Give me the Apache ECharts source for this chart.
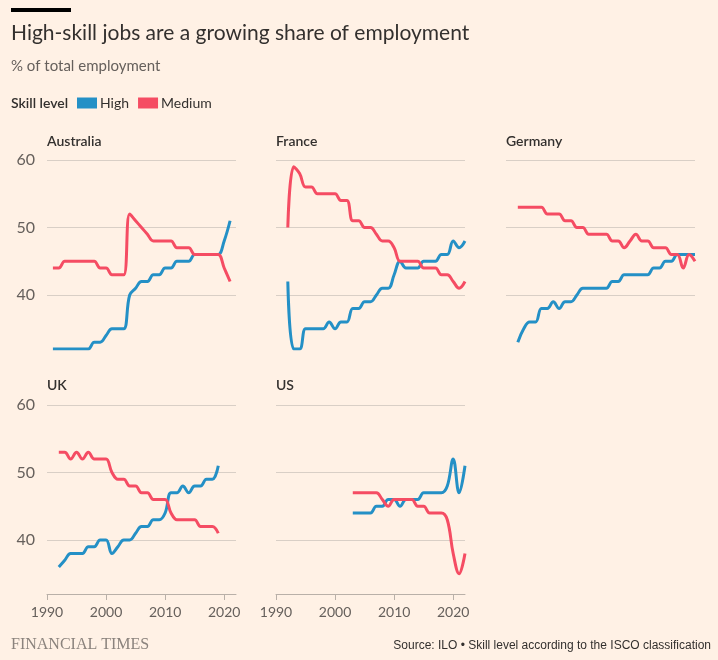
<!DOCTYPE html>
<html><head><meta charset="utf-8">
<script src="https://cdn.jsdelivr.net/npm/echarts@6/dist/echarts.min.js"></script>
<style>html,body{margin:0;padding:0;background:#fff1e5}#c{width:718px;height:660px}</style>
</head><body><div id="c"></div>
<script>
// ---- data ----
const ausYears = [1991,1992,1993,1994,1995,1996,1997,1998,1999,2000,2001,2002,2003,2004,2005,2006,2007,2008,2009,2010,2011,2012,2013,2014,2015,2016,2017,2018,2019,2020,2021];
const ausHigh  = [32,32,32,32,32,32,32,33,33,34,35,35,35,40,41,42,42,43,43,44,44,45,45,45,46,46,46,46,46,48,51];
const ausMed   = [44,44,45,45,45,45,45,45,44,44,43,43,43,52,51,50,49,48,48,48,48,47,47,47,46,46,46,46,46,44,42];

const frYears = [1992,1993,1994,1995,1996,1997,1998,1999,2000,2001,2002,2003,2004,2005,2006,2007,2008,2009,2010,2011,2012,2013,2014,2015,2016,2017,2018,2019,2020,2021,2022];
const frHigh  = [42,32,32,35,35,35,35,36,35,36,36,38,38,39,39,40,41,41,43,45,44,44,44,45,45,45,46,46,48,47,48];
const frMed   = [50,59,58,56,56,55,55,55,55,54,54,51,51,50,50,49,48,48,47,45,45,45,45,44,44,44,43,43,42,41,42];

const deYears = [1992,1993,1994,1995,1996,1997,1998,1999,2000,2001,2002,2003,2004,2005,2006,2007,2008,2009,2010,2011,2012,2013,2014,2015,2016,2017,2018,2019,2020,2021,2022];
const deHigh  = [33,35,36,36,38,38,39,38,39,39,40,41,41,41,41,41,42,42,43,43,43,43,43,44,44,45,45,46,46,46,46];
const deMed   = [53,53,53,53,53,52,52,52,51,51,50,50,49,49,49,49,48,48,47,48,49,48,48,47,47,47,46,46,44,46,45];

const ukYears = [1992,1993,1994,1995,1996,1997,1998,1999,2000,2001,2002,2003,2004,2005,2006,2007,2008,2009,2010,2011,2012,2013,2014,2015,2016,2017,2018,2019];
const ukHigh  = [36,37,38,38,38,39,39,40,40,38,39,40,40,41,42,42,43,43,44,47,47,48,47,48,48,49,49,51];
const ukMed   = [53,53,52,53,52,53,52,52,52,50,49,49,48,48,47,47,46,46,46,44,43,43,43,43,42,42,42,41];

const usYears = [2003,2004,2005,2006,2007,2008,2009,2010,2011,2012,2013,2014,2015,2016,2017,2018,2019,2020,2021,2022];
const usHigh  = [44,44,44,44,45,45,46,46,45,46,46,46,47,47,47,47,48,52,47,51];
const usMed   = [47,47,47,47,47,46,45,46,46,46,46,45,45,44,44,44,43,38,35,38];

const countries = ['Australia','France','Germany','UK','US'];
const yTicks = [40,50,60];
const xTicks = [1990,2000,2010,2020];
const seriesNames = ['High','Medium'];

// ---- layout / style ----
const BG = '#fff1e5';
const BLUE = '#2490c6';
const RED = '#f54c63';
const FONT = 'Lato, "Noto Sans", sans-serif';
const panelData = [
  [ausYears, ausHigh, ausMed],
  [frYears, frHigh, frMed],
  [deYears, deHigh, deMed],
  [ukYears, ukHigh, ukMed],
  [usYears, usHigh, usMed]
];
const lefts = [47, 276, 506];
const tops = [160, 405];
const PW = 189, PH = 189;

const grids = [], xAxes = [], yAxes = [], series = [], graphics = [];
panelData.forEach((p, i) => {
  const col = i % 3, row = Math.floor(i / 3);
  const bottomRow = row === 1;
  grids.push({left: lefts[col], top: tops[row], width: PW, height: PH});
  xAxes.push({
    type: 'value', gridIndex: i, min: 1990, max: 2022,
    show: bottomRow,
    axisLine: {show: true, lineStyle: {color: '#b9b0a8', width: 1}},
    axisTick: {show: true, length: 6, customValues: xTicks, lineStyle: {color: '#b9b0a8'}},
    axisLabel: {customValues: xTicks, formatter: v => String(v), color: '#66605c', fontFamily: FONT, fontSize: 14, margin: 11},
    splitLine: {show: false}
  });
  yAxes.push({
    type: 'value', gridIndex: i, min: 32, max: 60,
    axisLine: {show: false},
    axisTick: {show: false, customValues: yTicks},
    axisLabel: {show: col === 0, customValues: yTicks, color: '#66605c', fontFamily: FONT, fontSize: 16, margin: 12},
    splitLine: {show: true, lineStyle: {color: '#d9cfc6', width: 1}}
  });
  const [yrs, hi, med] = p;
  [[hi, BLUE, 0], [med, RED, 1]].forEach(([vals, color, k]) => {
    series.push({
      name: seriesNames[k], type: 'line', xAxisIndex: i, yAxisIndex: i,
      data: yrs.map((y, j) => [y, vals[j]]),
      showSymbol: false, symbol: 'none', smooth: 0.4,
      lineStyle: {color, width: 3}, itemStyle: {color},
      silent: true, animation: false, z: 2 + k
    });
  });
  graphics.push({
    type: 'text', x: lefts[col], y: bottomRow ? 385 : 141,
    style: {text: countries[i], font: '600 14px ' + FONT, fill: '#33302e', textVerticalAlign: 'middle'}
  });
});

graphics.push(
  {type: 'rect', shape: {x: 11, y: 8, width: 60, height: 4}, style: {fill: '#000'}},
  {type: 'text', x: 11, y: 33, style: {text: 'High-skill jobs are a growing share of employment', font: '21px ' + FONT, fill: '#33302e', textVerticalAlign: 'middle'}},
  {type: 'text', x: 11, y: 66, style: {text: '% of total employment', font: '15px ' + FONT, fill: '#66605c', textVerticalAlign: 'middle'}},
  {type: 'text', x: 11, y: 103, style: {text: 'Skill level', font: '600 14px ' + FONT, fill: '#33302e', textVerticalAlign: 'middle'}},
  {type: 'text', x: 11, y: 645, style: {text: 'FINANCIAL TIMES', font: '16px "Liberation Serif", serif', fill: '#8b837d', textVerticalAlign: 'middle'}},
  {type: 'text', x: 711, y: 646, style: {text: 'Source: ILO \u2022 Skill level according to the ISCO classification', font: '12px "Liberation Sans Narrow", "Liberation Sans", sans-serif', fill: '#33302e', textAlign: 'right', textVerticalAlign: 'middle'}}
);

const chart = echarts.init(document.getElementById('c'), null, {renderer: 'canvas'});
chart.setOption({
  backgroundColor: BG,
  animation: false,
  textStyle: {fontFamily: FONT},
  legend: {
    left: 77, top: 96, padding: 0, itemGap: 9, itemWidth: 20, itemHeight: 11,
    icon: 'rect', selectedMode: false,
    data: seriesNames.map((n, k) => ({name: n, itemStyle: {color: k ? RED : BLUE}})),
    textStyle: {fontFamily: FONT, fontSize: 14, color: '#33302e', padding: [0, 0, 0, -2]}
  },
  grid: grids, xAxis: xAxes, yAxis: yAxes, series,
  graphic: {elements: graphics}
});
</script></body></html>
